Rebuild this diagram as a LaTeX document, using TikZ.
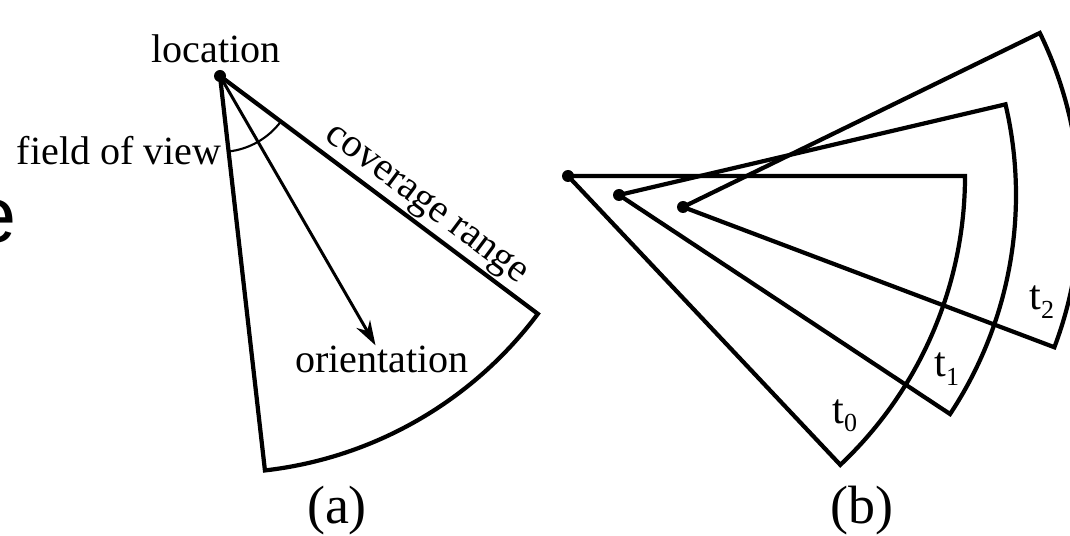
\documentclass[tikz,border=0pt]{standalone}
\usepackage{fontspec}
\setmainfont{Liberation Serif}
\newfontfamily\strayfont{Liberation Sans}
\usetikzlibrary{arrows.meta}
\tikzset{
  fanline/.style={line width=2.4pt, black, line join=miter},
  fovarc/.style={line width=1.2pt},
  pointer/.style={-{Stealth[length=14pt, width=9pt]}, line width=1.7pt},
  apexdot/.style={fill=black},
  lbl/.style={inner sep=0pt, font=\fontsize{22.8}{26}\selectfont},
  tlbl/.style={inner sep=0pt, font=\fontsize{24}{28}\selectfont},
  captiontext/.style={inner sep=0pt, font=\fontsize{30.7}{34}\selectfont}
}
\newcommand{\tsub}[1]{t\raisebox{-0.2em}{\fontsize{14.8}{16}\selectfont #1}}

\begin{document}
\begin{tikzpicture}[x=0.02cm, y=0.02cm]
  \useasboundingbox (0,0) rectangle (1070,-536);

  % cropped letter at the left border
  \begin{scope}
    \clip (0,0) rectangle (1070,-536);
    \node[inner sep=0pt, anchor=base west, font=\strayfont\fontsize{45}{50}\selectfont] (stray) at (-28,-243) {e};
  \end{scope}

  % (a) one sensor sector
  \coordinate (loc) at (220,-76);
  \draw[fanline] (loc) -- ++(-83.5:397) coordinate (aleft)
    arc[start angle=-83.5, end angle=-36.8, radius=7.94cm] coordinate (aright) -- cycle;
  \draw[fovarc] (loc) ++(-83.5:76) arc[start angle=-83.5, end angle=-36.8, radius=1.52cm];
  \path (loc) ++(-60:311) coordinate (orienttip);
  \draw[pointer] (loc) -- (orienttip);
  \fill[apexdot] (loc) circle[radius=0.12cm];

  \node[lbl, anchor=base] (location) at (216,-63) {location};
  \node[lbl, anchor=base east] (fieldofview) at (222,-165) {field of view};
  \node[lbl, anchor=base] (orientation) at (382,-372) {orientation};
  \path (loc) -- (aright) node[lbl, pos=0.61, sloped, above=2pt] (covrange) {coverage range};
  \node[captiontext, anchor=base] (capa) at (337,-523) {(a)};

  % (b) the sector at three instants
  \foreach \px/\py/\top/\n in {568/176/0/0, 619/195/13.2/1, 683/207/26/2} {
    \draw[fanline] (\px,-\py) coordinate (apex\n) -- ++(\top:397)
      arc[start angle=\top, end angle=\top-46.7, radius=7.94cm] -- cycle;
  }
  \foreach \n in {0,1,2} {
    \fill[apexdot] (apex\n) circle[radius=0.12cm];
  }

  \node[tlbl, anchor=base west] (tzero) at (832,-423) {\tsub{0}};
  \node[tlbl, anchor=base west] (tone) at (934,-377) {\tsub{1}};
  \node[tlbl, anchor=base west] (ttwo) at (1029,-310) {\tsub{2}};
  \node[captiontext, anchor=base] (capb) at (862,-523) {(b)};
\end{tikzpicture}
\end{document}
